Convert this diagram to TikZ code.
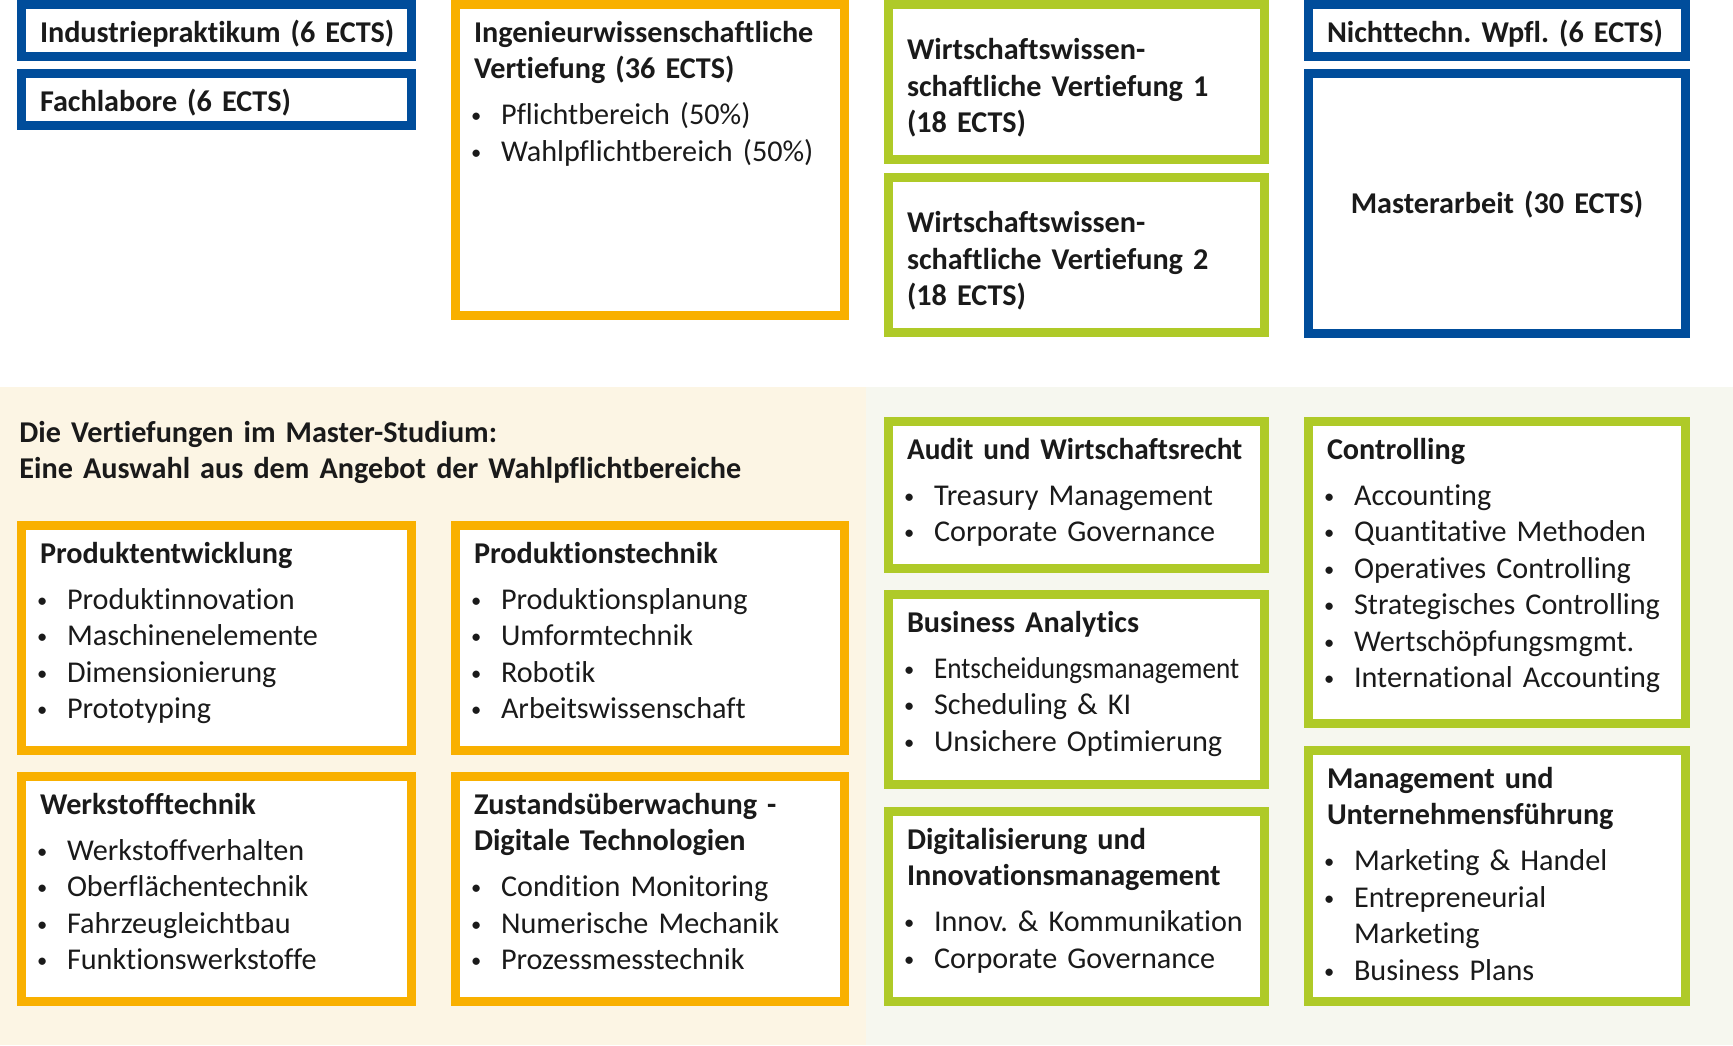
\documentclass[tikz,border=0pt]{standalone}
\usepackage{fontspec}
\setmainfont{Carlito}[WordSpace=0.88,Ligatures=NoCommon]

\definecolor{tuBlau}{RGB}{0,77,155}
\definecolor{tuGelb}{RGB}{249,176,0}
\definecolor{tuGruen}{RGB}{175,202,40}
\definecolor{tuCreme}{RGB}{252,245,228}
\definecolor{tuHell}{RGB}{246,247,239}
\definecolor{tuText}{RGB}{26,26,26}

\frenchspacing
\newcommand{\kopf}[1]{\mbox{\bfseries #1}}
\newcommand{\pkt}[1]{\mbox{\makebox[13.5pt][l]{\kern-1.4pt\raisebox{0.9pt}{\scalebox{0.68}{\textbullet}}}#1}}
\newcommand{\weiter}[1]{\mbox{\hspace*{13.5pt}#1}}

\begin{document}
\begin{tikzpicture}[
    x=0.5pt,
    y=-0.5pt,
    feld/.style={
        draw,
        line width=4.5pt,
        fill=white,
        anchor=north west,
        inner xsep=9.25pt,
        inner ysep=0pt,
        text height=18.75pt,
        align=left,
        text=tuText,
        font=\fontsize{15.1}{18.25}\selectfont
    },
    blau/.style={feld,draw=tuBlau},
    gelb/.style={feld,draw=tuGelb},
    gruen/.style={feld,draw=tuGruen},
    spalteA/.style={text width=176.5pt},
    spalteB/.style={text width=176pt},
    spalteC/.style={text width=169.5pt},
    spalteD/.style={text width=170pt}
]

\useasboundingbox (0,0) rectangle (1733,1045);
\fill[white] (0,0) rectangle (1733,1045);
\fill[tuCreme] (0,387) rectangle (866,1045);
\fill[tuHell] (866,387) rectangle (1733,1045);

% Studienaufbau.
\node[blau,spalteA,text depth=7.25pt] (praktikum) at (17,0) {\kopf{Industriepraktikum (6 ECTS)}};
\node[blau,spalteA,text depth=7.25pt] (labore) at (17,69) {\kopf{Fachlabore (6 ECTS)}};
\node[gelb,spalteB,text depth=136.75pt] (ingenieur) at (451,0) {\kopf{Ingenieurwissenschaftliche}\\
    \kopf{Vertiefung (36 ECTS)}\\[4.75pt]
    \pkt{Pflichtbereich (50\%)}\\
    \pkt{Wahlpflichtbereich (50\%)}};
\node[gruen,spalteC,text height=27.5pt,text depth=50pt] (wiwi1) at (884,0) {\kopf{Wirtschaftswissen-}\\
    \kopf{schaftliche Vertiefung 1}\\
    \kopf{(18 ECTS)}};
\node[gruen,spalteC,text height=27.5pt,text depth=50pt] (wiwi2) at (884,173) {\kopf{Wirtschaftswissen-}\\
    \kopf{schaftliche Vertiefung 2}\\
    \kopf{(18 ECTS)}};
\node[blau,spalteD,text depth=7.25pt] (nichttechn) at (1304,0) {\kopf{Nichttechn. Wpfl. (6 ECTS)}};
\node[blau,spalteD,align=center,text height=69.75pt,text depth=60.25pt] (master) at (1304,69) {\kopf{Masterarbeit (30 ECTS)}};

% Ingenieurwissenschaftliche Vertiefungen.
\node[anchor=north west,inner sep=0pt,text height=18.75pt,text width=400pt,align=left,text=tuText,
    font=\fontsize{15.1}{18}\selectfont\bfseries] (auswahl) at (19,404.5)
    {Die Vertiefungen im Master-Studium:\\Eine Auswahl aus dem Angebot der Wahlpflichtbereiche};

\node[gelb,spalteA,text depth=93.75pt] (produkt) at (17,521) {\kopf{Produktentwicklung}\\[4.75pt]
    \pkt{Produktinnovation}\\
    \pkt{Maschinenelemente}\\
    \pkt{Dimensionierung}\\
    \pkt{Prototyping}};
\node[gelb,spalteB,text depth=93.75pt] (produktion) at (451,521) {\kopf{Produktionstechnik}\\[4.75pt]
    \pkt{Produktionsplanung}\\
    \pkt{Umformtechnik}\\
    \pkt{Robotik}\\
    \pkt{Arbeitswissenschaft}};
\node[gelb,spalteA,text depth=93.75pt] (werkstoff) at (17,772) {\kopf{Werkstofftechnik}\\[4.75pt]
    \pkt{Werkstoffverhalten}\\
    \pkt{Oberflächentechnik}\\
    \pkt{Fahrzeugleichtbau}\\
    \pkt{Funktionswerkstoffe}};
\node[gelb,spalteB,text depth=93.75pt] (zustand) at (451,772) {\kopf{Zustandsüberwachung -}\\
    \kopf{Digitale Technologien}\\[4.75pt]
    \pkt{Condition Monitoring}\\
    \pkt{Numerische Mechanik}\\
    \pkt{Prozessmesstechnik}};

% Wirtschaftswissenschaftliche Vertiefungen.
\node[gruen,spalteC,text depth=54.75pt] (audit) at (884,417) {\kopf{\scalebox{0.97}[1]{Audit und Wirtschaftsrecht}}\\[4.75pt]
    \pkt{Treasury Management}\\
    \pkt{Corporate Governance}};
\node[gruen,spalteC,text depth=76.25pt] (analytics) at (884,590) {\kopf{Business Analytics}\\[4.75pt]
    \pkt{\scalebox{0.9}[1]{Entscheidungsmanagement}}\\
    \pkt{Scheduling \& KI}\\
    \pkt{Unsichere Optimierung}};
\node[gruen,spalteC,text depth=76.25pt] (digital) at (884,807) {\kopf{Digitalisierung und}\\
    \kopf{Innovationsmanagement}\\[4.75pt]
    \pkt{Innov. \& Kommunikation}\\
    \pkt{Corporate Governance}};
\node[gruen,spalteD,text depth=132.25pt] (controlling) at (1304,417) {\kopf{Controlling}\\[4.75pt]
    \pkt{Accounting}\\
    \pkt{Quantitative Methoden}\\
    \pkt{Operatives Controlling}\\
    \pkt{Strategisches Controlling}\\
    \pkt{Wertschöpfungsmgmt.}\\
    \pkt{International Accounting}};
\node[gruen,spalteD,text depth=106.75pt] (management) at (1304,746) {\kopf{Management und}\\
    \kopf{Unternehmensführung}\\[4.75pt]
    \pkt{Marketing \& Handel}\\
    \pkt{Entrepreneurial}\\
    \weiter{Marketing}\\
    \pkt{Business Plans}};

\end{tikzpicture}
\end{document}
